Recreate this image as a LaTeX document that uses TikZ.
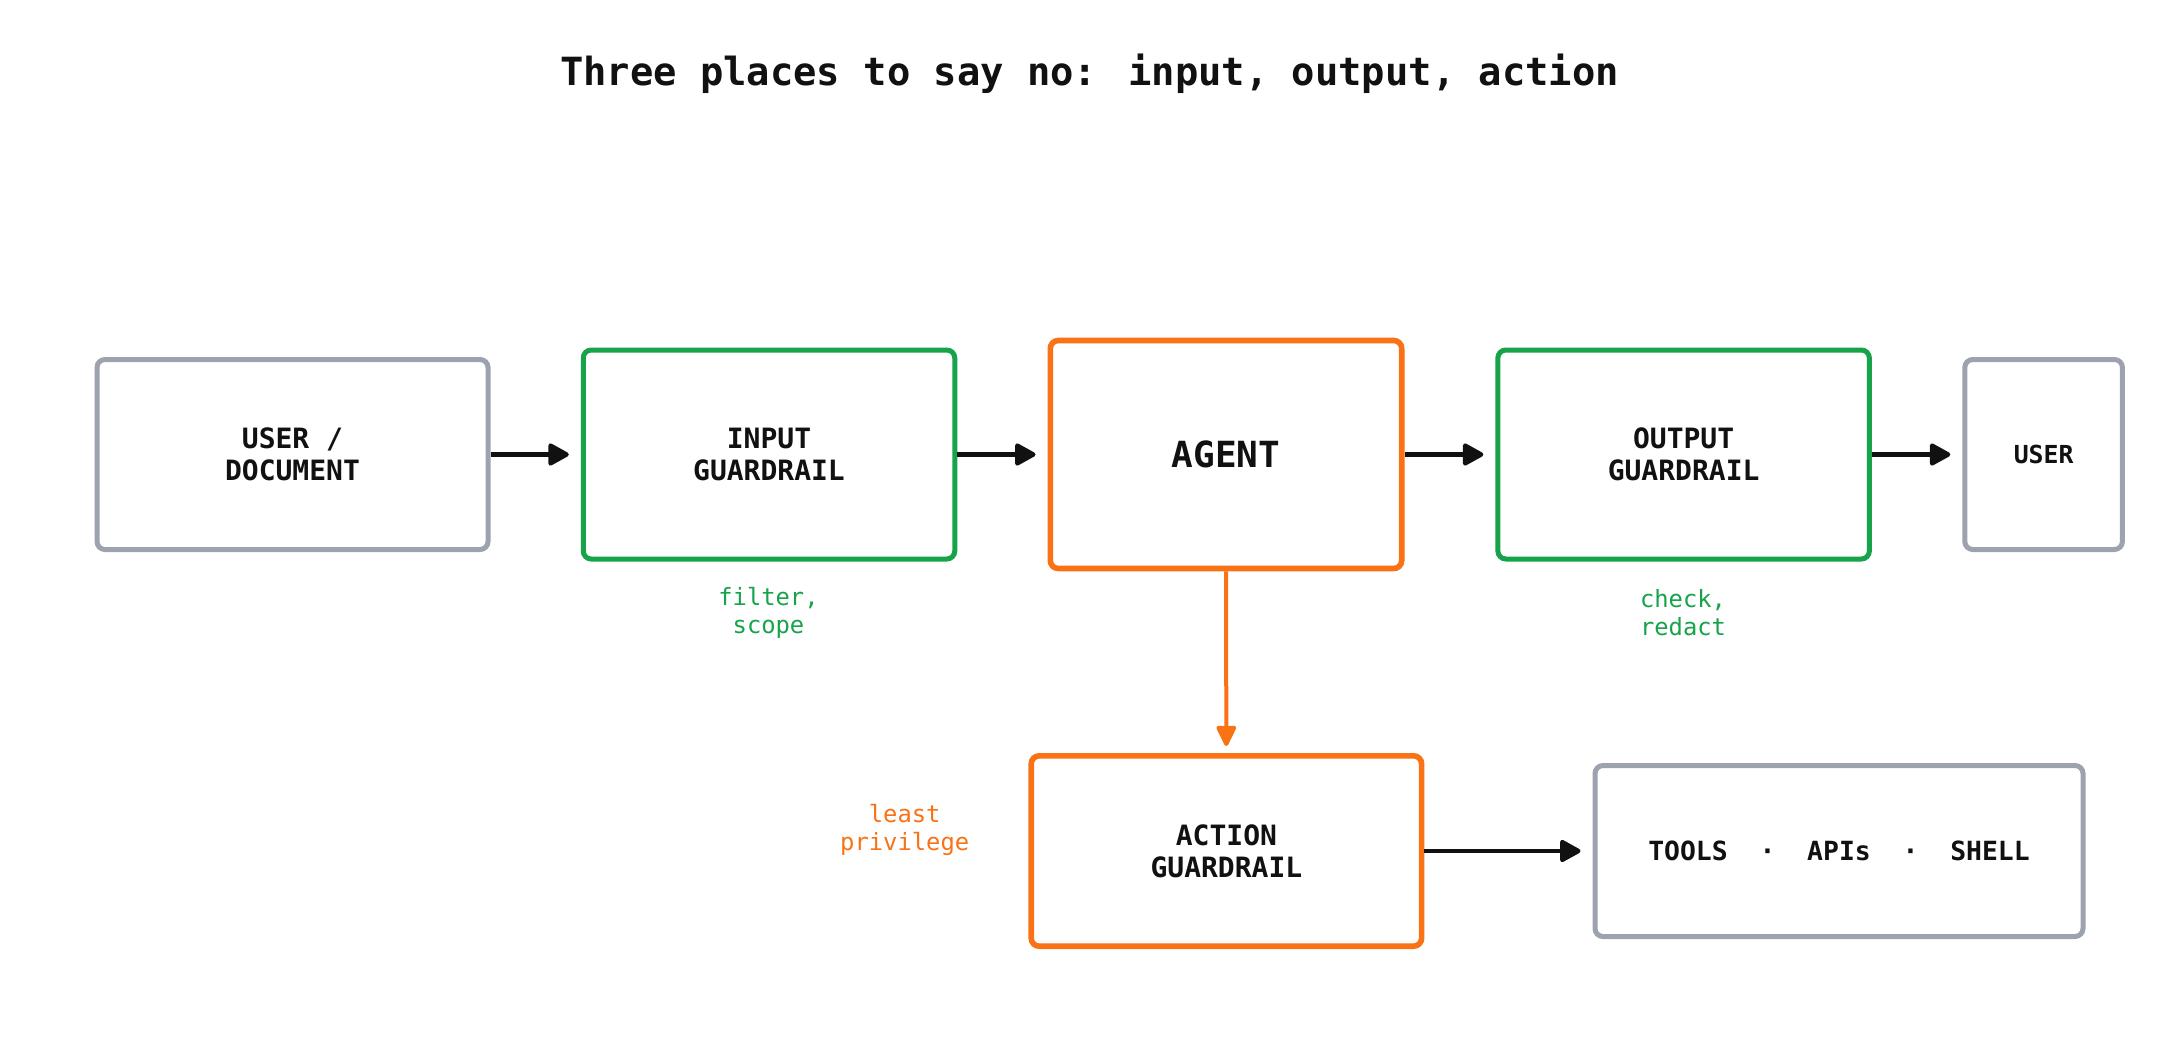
\documentclass[tikz,border=0pt]{standalone}
\usepackage{fontspec}
\setmainfont{DejaVu Sans Mono}
\usetikzlibrary{arrows.meta}
\definecolor{cgray}{HTML}{9CA3AF}
\definecolor{cgreen}{HTML}{16A34A}
\definecolor{corange}{HTML}{F97316}
\definecolor{ctext}{HTML}{111111}
\tikzset{
  box/.style={draw, rounded corners=4pt, fill=white, align=center, inner sep=0pt, text=ctext,
    font=\bfseries\fontsize{14}{16}\selectfont},
  graybox/.style={box, draw=cgray, line width=2.5pt},
  greenbox/.style={box, draw=cgreen, line width=2.5pt},
  orangebox/.style={box, draw=corange, line width=2.8pt},
  note/.style={align=center, font=\fontsize{11.9}{14}\selectfont},
  flow/.style={draw=ctext, line width=2.2pt, -{Triangle[length=11.5pt,width=12pt,round]}, shorten >=6pt},
  oflow/.style={draw=corange, line width=2pt, -{Triangle[length=11.5pt,width=10.5pt,round]}, shorten >=3.5pt},
}
\begin{document}
\begin{tikzpicture}[x=0.5pt,y=-0.5pt]
\useasboundingbox[fill=white] (0,0) rectangle (2179,1060);
\node[font=\bfseries\fontsize{19.4}{22}\selectfont, text=ctext] (title) at (1089.5,74) {Three places to say no: input, output, action};

\node[graybox, minimum width=195.5pt, minimum height=95pt] (userdoc) at (292.5,454.5) {USER /\\DOCUMENT};
\node[greenbox, minimum width=185.75pt, minimum height=104.5pt] (input) at (769,454.5) {INPUT\\GUARDRAIL};
\node[orangebox, minimum width=175.7pt, minimum height=114pt, font=\bfseries\fontsize{18}{20}\selectfont] (agent) at (1226,454.5) {AGENT};
\node[greenbox, minimum width=185.75pt, minimum height=104.5pt] (output) at (1683.6,454.5) {OUTPUT\\GUARDRAIL};
\node[graybox, minimum width=78.8pt, minimum height=95pt, font=\bfseries\fontsize{12.4}{14}\selectfont] (user) at (2043.6,454.5) {USER};
\node[orangebox, minimum width=195.2pt, minimum height=95.2pt] (action) at (1226.4,851) {ACTION\\GUARDRAIL};
\node[graybox, minimum width=244pt, minimum height=85.5pt, font=\bfseries\fontsize{13.2}{15}\selectfont] (tools) at (1839,851) {TOOLS\ \ ·\ \ APIs\ \ ·\ \ SHELL};

\node[note, text=cgreen] (nin) at (768.5,613) {filter,\\scope};
\node[note, text=cgreen] (nout) at (1683,613) {check,\\redact};
\node[note, text=corange] (nact) at (904.7,830) {least\\privilege};

\draw[flow] (userdoc) -- (input);
\draw[flow] (input) -- (agent);
\draw[flow] (agent) -- (output);
\draw[flow] (output) -- (user);
\draw[flow] (action) -- (tools);
\draw[oflow] (agent) -- (action);
\end{tikzpicture}
\end{document}
